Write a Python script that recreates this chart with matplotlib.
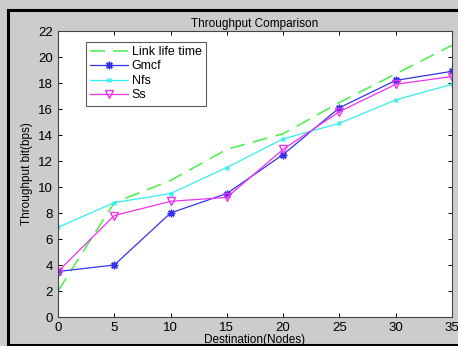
import matplotlib
matplotlib.use('Agg')
import matplotlib.pyplot as plt
from matplotlib.lines import Line2D

plt.rcParams['font.family'] = ['Liberation Sans', 'DejaVu Sans']

nodes = [0, 5, 10, 15, 20, 25, 30, 35]
link_life = [2.0, 8.8, 10.5, 12.9, 14.1, 16.5, 18.7, 20.9]
gmcf = [3.5, 4.0, 8.0, 9.5, 12.5, 16.1, 18.2, 18.9]
nfs = [6.9, 8.8, 9.5, 11.5, 13.7, 14.9, 16.7, 17.9]
ss = [3.5, 7.8, 8.9, 9.2, 12.9, 15.8, 17.9, 18.5]

fig = plt.figure(figsize=(4.58, 3.46), dpi=100, facecolor='#cccccc')
ax = fig.add_axes([58/458, 1-317/346, (452-58)/458, (317-31)/346])

ax.plot(nodes, link_life, color='#55ee55', ls=(0, (9, 5)), lw=1.2, label='Link life time')
ax.plot(nodes, gmcf, color='#3333ee', marker=(8, 2, 0), ms=5.5, mew=1.0, lw=0.9, label='Gmcf')
ax.plot(nodes, nfs, color='#33eeee', marker='x', ms=3, lw=0.9, label='Nfs')
ax.plot(nodes, ss, color='#ee33ee', marker='v', ms=6, mfc='none', lw=0.9, label='Ss')

ax.set_xlim(0, 35)
ax.set_ylim(0, 22)
ax.set_xticks(range(0, 36, 5))
ax.set_yticks(range(0, 23, 2))
ax.tick_params(direction='in', top=True, right=True, labelsize=9.5, length=3, width=0.7)
for s in ax.spines.values():
    s.set_linewidth(0.8)
    s.set_color('#444444')

ax.set_title('Throughput Comparison', fontsize=8.5, pad=3)
ax.set_xlabel('Destination(Nodes)', fontsize=8.5, labelpad=0)
ax.set_ylabel('Throughput bit(bps)', fontsize=8.5, labelpad=4)

leg = ax.legend(loc='upper left', bbox_to_anchor=(0.055, 0.985), fontsize=9,
                frameon=True, fancybox=False, edgecolor='#333333',
                handlelength=3.0, borderpad=0.35, labelspacing=0.2, handletextpad=0.3)
leg.get_frame().set_linewidth(0.8)

# black frame round the screenshot (left, top, bottom only)
fx = 8/458
ft = 1 - 10/346
fb = 1.5/346
for xs, ys in [([fx, fx], [fb, ft]), ([fx, 1.0], [ft, ft]), ([fx, 1.0], [fb, fb])]:
    fig.add_artist(Line2D(xs, ys, transform=fig.transFigure, color='black', lw=2.2))

fig.savefig('out.png', dpi=100, facecolor=fig.get_facecolor())
